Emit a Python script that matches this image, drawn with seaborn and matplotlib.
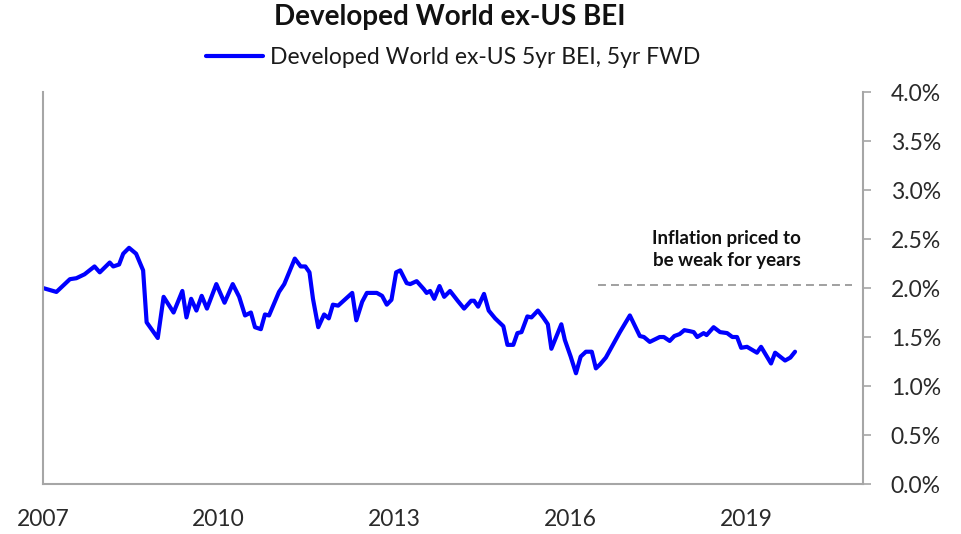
import matplotlib
matplotlib.use("Agg")
import matplotlib.pyplot as plt
import numpy as np
import pandas as pd
import seaborn as sns

# Data (decimal year, 5yr5yr BEI in %)
years = [
    2007.00, 2007.23, 2007.46, 2007.57, 2007.71, 2007.88, 2007.97, 2008.14, 2008.20, 2008.30,
    2008.37, 2008.47, 2008.59, 2008.71, 2008.77, 2008.96, 2009.06, 2009.23, 2009.38, 2009.45,
    2009.53, 2009.62, 2009.71, 2009.80, 2009.96, 2010.10, 2010.24, 2010.35, 2010.45, 2010.55,
    2010.62, 2010.72, 2010.79, 2010.86, 2011.03, 2011.12, 2011.30, 2011.40, 2011.48, 2011.55,
    2011.61, 2011.70, 2011.80, 2011.88, 2011.95, 2012.04, 2012.28, 2012.35, 2012.45, 2012.53,
    2012.70, 2012.79, 2012.87, 2012.95, 2013.03, 2013.10, 2013.21, 2013.27, 2013.38, 2013.50,
    2013.55, 2013.61, 2013.68, 2013.77, 2013.85, 2013.95, 2014.08, 2014.19, 2014.31, 2014.36,
    2014.43, 2014.53, 2014.61, 2014.72, 2014.86, 2014.93, 2015.03, 2015.10, 2015.17, 2015.27,
    2015.34, 2015.45, 2015.54, 2015.62, 2015.68, 2015.85, 2015.91, 2016.01, 2016.10, 2016.18,
    2016.27, 2016.37, 2016.44, 2016.51, 2016.61, 2016.73, 2016.85, 2016.95, 2017.02, 2017.19,
    2017.26, 2017.36, 2017.53, 2017.60, 2017.70, 2017.78, 2017.87, 2017.95, 2018.04, 2018.11,
    2018.17, 2018.28, 2018.33, 2018.45, 2018.56, 2018.68, 2018.77, 2018.85, 2018.92, 2019.02,
    2019.19, 2019.26, 2019.43, 2019.50, 2019.67, 2019.76, 2019.84,
]
bei = [
    2.00, 1.96, 2.09, 2.10, 2.14, 2.22, 2.16, 2.26, 2.22, 2.24,
    2.35, 2.41, 2.35, 2.18, 1.65, 1.49, 1.91, 1.75, 1.97, 1.70,
    1.89, 1.77, 1.92, 1.79, 2.04, 1.85, 2.04, 1.91, 1.72, 1.75,
    1.60, 1.58, 1.73, 1.72, 1.96, 2.04, 2.30, 2.22, 2.22, 2.16,
    1.89, 1.60, 1.73, 1.69, 1.83, 1.82, 1.95, 1.67, 1.86, 1.95,
    1.95, 1.92, 1.83, 1.88, 2.16, 2.18, 2.05, 2.04, 2.07, 1.99,
    1.95, 1.97, 1.89, 2.02, 1.91, 1.97, 1.87, 1.79, 1.87, 1.87,
    1.81, 1.94, 1.77, 1.69, 1.61, 1.42, 1.42, 1.54, 1.55, 1.71,
    1.70, 1.77, 1.70, 1.63, 1.38, 1.63, 1.47, 1.30, 1.13, 1.30,
    1.35, 1.35, 1.18, 1.22, 1.29, 1.42, 1.55, 1.65, 1.72, 1.51,
    1.50, 1.45, 1.50, 1.50, 1.46, 1.51, 1.53, 1.57, 1.56, 1.55,
    1.50, 1.54, 1.52, 1.60, 1.55, 1.54, 1.50, 1.50, 1.39, 1.40,
    1.34, 1.40, 1.23, 1.34, 1.26, 1.29, 1.35,
]
series_label = "Developed World ex-US 5yr BEI, 5yr FWD"
title = "Developed World ex-US BEI"
note = "Inflation priced to\nbe weak for years"
note_pos = (2018.67, 2.39)
ref_level = 2.03
ref_span = [2016.47, 2020.81]
x_ticks = [2007, 2010, 2013, 2016, 2019]
y_ticks = [0.0, 0.5, 1.0, 1.5, 2.0, 2.5, 3.0, 3.5, 4.0]

df = pd.DataFrame({"year": years, "bei": bei})

sns.set_style("white")
plt.rcParams["font.family"] = ["Lato", "DejaVu Sans"]

fig = plt.figure(figsize=(9.61, 5.34), dpi=100)
ax = fig.add_axes([0.0447, 0.0936, 0.8533, 0.7341])

sns.lineplot(data=df, x="year", y="bei", ax=ax, color="#0000FF", lw=3,
             label=series_label)

# reference level + note
ax.plot(ref_span, [ref_level, ref_level], color="#999999", lw=1.3,
        linestyle=(0, (4.4, 2.8)))
ax.text(note_pos[0], note_pos[1], note, ha="center", va="center",
        fontsize=13.5, fontweight="bold", color="#111111", linespacing=1.35)

ax.set_xlim(2007, 2021)
ax.set_ylim(0, 4)
ax.set_xticks(x_ticks)
ax.set_xticklabels([str(t) for t in x_ticks])
ax.set_yticks(y_ticks)
ax.set_yticklabels([f"{t:.1f}%" for t in y_ticks])
ax.yaxis.tick_right()
ax.set_xlabel("")
ax.set_ylabel("")

for side in ["left", "right", "bottom"]:
    ax.spines[side].set_color("#a6a6a6")
    ax.spines[side].set_linewidth(1.5)
ax.spines["top"].set_visible(False)
ax.tick_params(axis="y", which="both", direction="out", length=6, width=1.2,
               color="#a6a6a6", pad=14, labelsize=16.5, labelcolor="#2a2a2a",
               left=False, right=True)
ax.tick_params(axis="x", direction="out", length=6, width=1.2,
               color="#a6a6a6", pad=12, labelsize=16.5, labelcolor="#2a2a2a")

leg = ax.legend(loc="center", bbox_to_anchor=(0.5, 1.089), frameon=False,
                fontsize=16.5, handlelength=2.5, handletextpad=0.3)
for t in leg.get_texts():
    t.set_color("#1a1a1a")

fig.text(0.468, 1 - 17 / 534, title, ha="center", va="center",
         fontsize=20, fontweight="bold", color="#111111")

fig.savefig("out.png", dpi=100)
